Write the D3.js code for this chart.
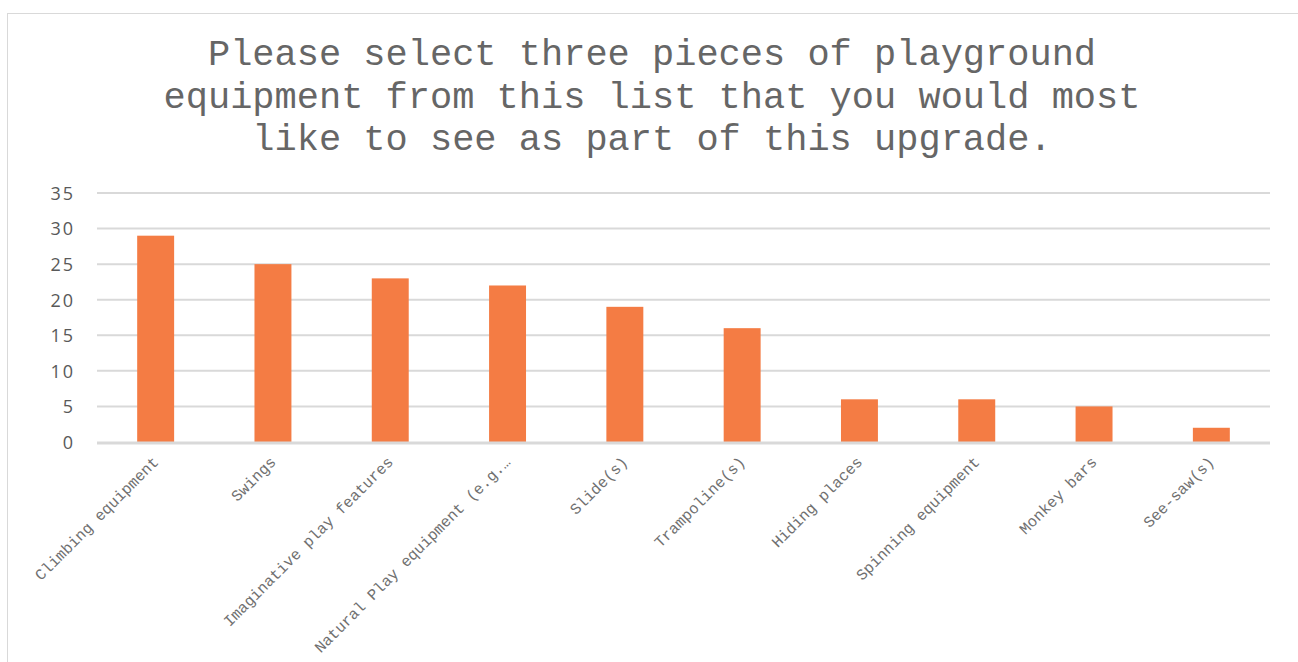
<!DOCTYPE html>
<html>
<head>
<meta charset="utf-8">
<script src="https://cdn.jsdelivr.net/npm/d3@7"></script>
<style>
  html, body { margin: 0; padding: 0; background: #fff; }
  svg { display: block; }
</style>
</head>
<body>
<svg id="chart" width="1298" height="662"></svg>
<script>
const titleLines = [
  "Please select three pieces of playground",
  "equipment from this list that you would most",
  "like to see as part of this upgrade."
];
const categories = [
  "Climbing equipment",
  "Swings",
  "Imaginative play features",
  "Natural Play equipment (e.g.…",
  "Slide(s)",
  "Trampoline(s)",
  "Hiding places",
  "Spinning equipment",
  "Monkey bars",
  "See-saw(s)"
];
const values = [29, 25, 23, 22, 19, 16, 6, 6, 5, 2];
const yTicks = [0, 5, 10, 15, 20, 25, 30, 35];

const svg = d3.select("#chart");
const W = 1298, H = 662;
const plot = { left: 97, right: 1270, top: 193, bottom: 442 };

// chart border
svg.append("rect")
  .attr("x", 7.5).attr("y", 13.5)
  .attr("width", W).attr("height", H)
  .attr("fill", "#fff")
  .attr("stroke", "#d9d9d9").attr("stroke-width", 1);

// title
const title = svg.append("text")
  .attr("text-anchor", "middle")
  .attr("font-family", "'Liberation Mono', 'Courier New', monospace")
  .attr("font-size", 37)
  .attr("fill", "#666666");
titleLines.forEach((t, i) => {
  title.append("tspan").attr("x", 652).attr("y", 65 + i * 42.5).text(t);
});

const x = d3.scaleBand()
  .domain(categories)
  .range([plot.left, plot.right])
  .paddingInner(0.685)
  .paddingOuter(0.3425);

const y = d3.scaleLinear()
  .domain([0, 35])
  .range([plot.bottom, plot.top]);

// gridlines
svg.append("g")
  .selectAll("line")
  .data(yTicks.filter(d => d !== 0))
  .join("line")
  .attr("x1", plot.left).attr("x2", plot.right)
  .attr("y1", d => y(d)).attr("y2", d => y(d))
  .attr("stroke", "#d9d9d9").attr("stroke-width", 2);

// y axis labels
const yAxis = d3.axisLeft(y).tickValues(yTicks).tickSize(0).tickPadding(0);
const yg = svg.append("g").attr("transform", `translate(75,0)`).call(yAxis);
yg.select(".domain").remove();
yg.selectAll("text")
  .attr("font-family", "'Open Sans', 'DejaVu Sans', sans-serif")
  .attr("font-size", 18)
  .attr("letter-spacing", 2)
  .attr("fill", "#595959")
  .attr("x", 0)
  .attr("dy", "0.35em");

// bars
svg.append("g")
  .selectAll("rect")
  .data(values)
  .join("rect")
  .attr("x", (d, i) => x(categories[i]))
  .attr("y", d => y(d))
  .attr("width", x.bandwidth())
  .attr("height", d => y(0) - y(d))
  .attr("fill", "#F47C44");

// baseline axis
svg.append("line")
  .attr("x1", plot.left).attr("x2", plot.right)
  .attr("y1", y(0) + 1).attr("y2", y(0) + 1)
  .attr("stroke", "#d9d9d9").attr("stroke-width", 3);

// x labels
const xAxis = d3.axisBottom(x).tickSize(0).tickPadding(0);
const xg = svg.append("g").attr("transform", `translate(0,${plot.bottom + 17})`).call(xAxis);
xg.select(".domain").remove();
xg.selectAll("text")
  .attr("font-family", "'Liberation Mono', 'Courier New', monospace")
  .attr("font-size", 15.5)
  .attr("fill", "#707070")
  .attr("text-anchor", "end")
  .attr("x", 0).attr("y", 0)
  .attr("dy", "0.35em")
  .attr("transform", "rotate(-45)");
</script>
</body>
</html>
